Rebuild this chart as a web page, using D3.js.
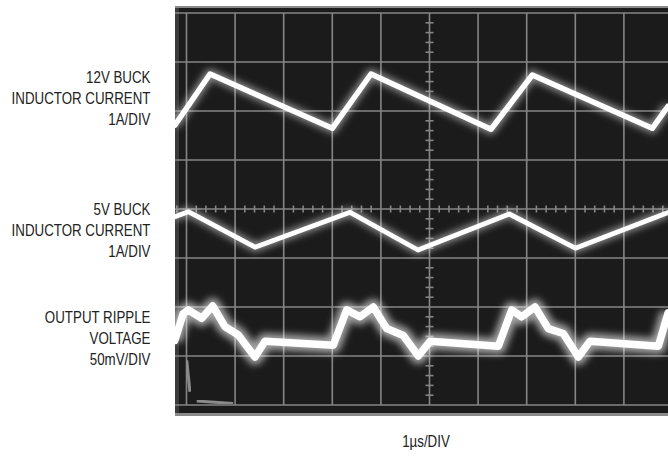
<!DOCTYPE html>
<html><head><meta charset="utf-8">
<script src="https://cdn.jsdelivr.net/npm/d3@7"></script>
<style>body{margin:0;background:#fff}svg{display:block}</style>
</head><body><svg id="c" width="668" height="456"></svg>
<script>
// time axis: 1µs/DIV, 10 divisions
const timeTicks = d3.range(0, 11);
const voltTicks = d3.range(-4, 5);
// 12V buck inductor current (A, relative to screen centre, 1A/DIV)
const t12 = [-0.24, 0.484, 3.0, 3.796, 6.265, 7.115, 9.584, 9.91];
const i12 = [1.71, 2.755, 1.647, 2.755, 1.627, 2.735, 1.647, 2.10];
// 5V buck inductor current (A, 1A/DIV)
const t5 = [-0.24, 0.037, 1.41, 3.366, 4.763, 6.642, 8.0, 9.91];
const i5 = [-0.157, -0.055, -0.78, -0.067, -0.837, -0.102, -0.80, -0.07];
// output ripple voltage (mV, 50mV/DIV)
const tR = [-0.24, -0.07, 0.037, 0.313, 0.539, 0.792, 1.066, 1.409, 1.615, 3.02, 3.296, 3.57, 3.844, 4.119, 4.461, 4.77, 5.01, 6.416, 6.691, 6.897, 7.171, 7.444, 7.753, 8.062, 8.302, 9.708, 9.91];
const vR = [-134, -107, -103, -111.5, -99, -120, -128.6, -151, -135, -139, -103, -110, -100, -122, -129, -150, -135, -140, -103, -110, -100, -122, -127, -151, -135, -140, -106];
// faint trace-start ghost marks (divisions)
const ghostT = [[0.005, 0.07], [0.21, 0.96]];
const ghostV = [[-3.09, -3.73], [-3.92, -3.97]];

const labels = [
  {lines: ["12V BUCK", "INDUCTOR CURRENT", "1A/DIV"], y: 82.7},
  {lines: ["5V BUCK", "INDUCTOR CURRENT", "1A/DIV"], y: 215},
  {lines: ["OUTPUT RIPPLE", "VOLTAGE", "50mV/DIV"], y: 322.7}
];
const xLabel = "1µs/DIV";

const svg = d3.select("#c");
const x = d3.scaleLinear().domain([0, 10]).range([186.5, 672.5]);
const y = d3.scaleLinear().domain([-4, 4]).range([405, 13]);
const yR = d3.scaleLinear().domain([-200, 200]).range([405, 13]);

const defs = svg.append("defs");
defs.append("clipPath").attr("id", "scr").append("rect")
  .attr("x", 175).attr("y", 8).attr("width", 493).attr("height", 405);
const f = defs.append("filter").attr("id", "glow").attr("x", "-20%").attr("y", "-50%").attr("width", "140%").attr("height", "200%");
f.append("feGaussianBlur").attr("stdDeviation", 3.5);
const f2 = defs.append("filter").attr("id", "soft");
f2.append("feGaussianBlur").attr("stdDeviation", 0.7);

// screen
svg.append("rect").attr("x", 175).attr("y", 6).attr("width", 493).attr("height", 410).attr("fill", "#8a8a8a");
svg.append("rect").attr("x", 176).attr("y", 8).attr("width", 492).attr("height", 405).attr("fill", "#1b1b1b");
svg.append("rect").attr("x", 175).attr("y", 8).attr("width", 4).attr("height", 405).attr("fill", "#3a3a3a");

const scr = svg.append("g").attr("clip-path", "url(#scr)");
const grid = scr.append("g").attr("stroke", "#858585").attr("stroke-width", 1.6).attr("filter", "url(#soft)");
grid.selectAll(".vx").data(timeTicks).join("line")
  .attr("x1", d => x(d)).attr("x2", d => x(d)).attr("y1", y(4)).attr("y2", y(-4));
grid.selectAll(".hy").data(voltTicks).join("line")
  .attr("y1", d => y(d)).attr("y2", d => y(d)).attr("x1", x(-1)).attr("x2", x(10));
// minor ticks on centre lines
const minorX = d3.range(-0.2, 10.01, 0.2).filter(d => Math.abs(d - Math.round(d)) > 0.01);
const minorY = d3.range(-4, 4.01, 0.2).filter(d => Math.abs(d - Math.round(d)) > 0.01);
grid.selectAll(".mx").data(minorX).join("line")
  .attr("x1", d => x(d)).attr("x2", d => x(d)).attr("y1", y(0) - 3.5).attr("y2", y(0) + 3.5);
grid.selectAll(".my").data(minorY).join("line")
  .attr("y1", d => y(d)).attr("y2", d => y(d)).attr("x1", x(5) - 4).attr("x2", x(5) + 4);

// ghost marks
ghostT.forEach((ts, k) => {
  scr.append("path").attr("d", d3.line()(ts.map((t, j) => [x(t), y(ghostV[k][j])])))
    .attr("stroke", "#8a8a8a").attr("stroke-width", 3).attr("fill", "none").attr("filter", "url(#soft)");
});

function trace(ts, vs, ys, core, glowW, op) {
  const pts = ts.map((t, j) => [x(t), ys(vs[j])]);
  const p = d3.line()(pts);
  scr.append("path").attr("d", p).attr("fill", "none").attr("stroke", "#fff")
    .attr("stroke-opacity", op).attr("stroke-width", glowW).attr("stroke-linejoin", "round").attr("filter", "url(#glow)");
  scr.append("path").attr("d", p).attr("fill", "none").attr("stroke", "#fff")
    .attr("stroke-width", core).attr("stroke-linejoin", "round").attr("stroke-linecap", "round").attr("filter", "url(#soft)");
}
trace(t12, i12, y, 5.5, 10, 0.5);
trace(t5, i5, y, 4.8, 9, 0.5);
trace(tR, vR, yR, 7.5, 16, 0.6);

// labels
const lab = svg.append("g").attr("font-family", "'Liberation Sans Narrow', 'Liberation Sans', Arial, sans-serif")
  .attr("font-size", 16).attr("fill", "#222");
const probe = lab.append("text").text("INDUCTOR CURRENT");
const sx = 139 / probe.node().getComputedTextLength();
probe.remove();
labels.forEach(L => {
  const g = lab.append("g").attr("transform", `translate(150.5,${L.y}) scale(${sx},1)`);
  L.lines.forEach((s, k) => g.append("text").attr("text-anchor", "end").attr("y", k * 21.2).text(s));
});
const xl = lab.append("g").attr("transform", `translate(426,446.7) scale(${sx},1)`);
xl.append("text").attr("text-anchor", "middle").text(xLabel);
</script></body></html>
